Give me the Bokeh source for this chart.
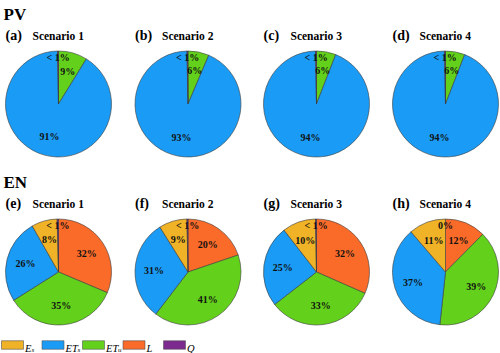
import math
from bokeh.plotting import figure
from bokeh.models import Range1d
from bokeh.embed import file_html
from bokeh.resources import INLINE
from bokeh.core.properties import value

# ---- data ----
# components drawn clockwise from 12 o'clock
components = ["L", "ETu", "ETs", "Es", "Q"]
comp_colors = ["#FA6A28", "#63D11B", "#1A9CF6", "#F0B226", "#7C2A8D"]

scenarios = ["Scenario 1", "Scenario 2", "Scenario 3", "Scenario 4"]
pv_letters = ["(a)", "(b)", "(c)", "(d)"]
en_letters = ["(e)", "(f)", "(g)", "(h)"]

# PV row shares (%)
pv_L = [0.0, 0.0, 0.0, 0.0]
pv_ETu = [8.8, 6.4, 5.9, 5.9]
pv_ETs = [90.9, 93.3, 93.8, 93.8]
pv_Es = [0.0, 0.0, 0.0, 0.0]
pv_Q = [0.3, 0.3, 0.3, 0.3]
pv_L_lab = ["", "", "", ""]
pv_ETu_lab = ["9%", "6%", "6%", "6%"]
pv_ETs_lab = ["91%", "93%", "94%", "94%"]
pv_Es_lab = ["", "", "", ""]
pv_Q_lab = ["< 1%", "< 1%", "< 1%", "< 1%"]

# EN row shares (%)
en_L = [31.6, 19.8, 31.6, 12.4]
en_ETu = [34.9, 40.6, 32.9, 39.3]
en_ETs = [25.9, 30.7, 25.0, 37.0]
en_Es = [7.9, 8.6, 10.2, 11.3]
en_Q = [0.4, 0.3, 0.3, 0.0]
en_L_lab = ["32%", "20%", "32%", "12%"]
en_ETu_lab = ["35%", "41%", "33%", "39%"]
en_ETs_lab = ["26%", "31%", "25%", "37%"]
en_Es_lab = ["8%", "9%", "10%", "11%"]
en_Q_lab = ["< 1%", "< 1%", "< 1%", "0%"]

legend_names = [("E", "s"), ("ET", "s"), ("ET", "u"), ("L", ""), ("Q", "")]
legend_colors = ["#F0B226", "#1A9CF6", "#63D11B", "#FA6A28", "#7C2A8D"]

# ---- layout ----
W, H = 500, 353
R = 53
col_x = [58, 187.5, 316, 445]
row_top = [103.5, 271.5]

SERIF = value("Liberation Serif")

p = figure(width=W, height=H, x_range=Range1d(0, W), y_range=Range1d(0, H),
           output_backend="svg", toolbar_location=None,
           x_axis_type=None, y_axis_type=None, min_border=0)
p.grid.visible = False
p.outline_line_color = None
p.background_fill_color = "white"


def Y(top):
    return H - top


def draw_row(rowvals, rowlabs, ri, letters, head, head_top):
    p.text(x=[3], y=[Y(head_top)], text=[head], text_font=SERIF,
           text_font_size="17px", text_font_style="bold",
           text_baseline="alphabetic", text_color="black")
    cy = Y(row_top[ri])
    for j in range(4):
        cx = col_x[j]
        vals = [v[j] for v in rowvals]
        labs = [l[j] for l in rowlabs]
        tot = sum(vals)
        xs, ys, sa, ea, cols = [], [], [], [], []
        lx, ly, lt = [], [], []
        cum = 0.0
        for k, v in enumerate(vals):
            f0 = cum / tot
            f1 = (cum + v) / tot
            cum += v
            if v > 0:
                xs.append(cx); ys.append(cy)
                sa.append(math.pi / 2 - 2 * math.pi * f0)
                ea.append(math.pi / 2 - 2 * math.pi * f1)
                cols.append(comp_colors[k])
            if labs[k]:
                mid = (f0 + f1) / 2 * 2 * math.pi
                rf = 0.88 if components[k] == "Q" else 0.64
                lx.append(cx + rf * R * math.sin(mid))
                ly.append(cy + rf * R * math.cos(mid))
                lt.append(labs[k])
        p.wedge(x=xs, y=ys, radius=R, start_angle=sa, end_angle=ea,
                direction="clock", fill_color=cols,
                line_color="#3c3c3c", line_width=0.6)
        p.text(x=lx, y=ly, text=lt, text_font=SERIF, text_font_size="10px",
               text_font_style="bold", text_align="center",
               text_baseline="middle", text_color="#111111")
        # panel letter and title
        base = row_top[ri] - 68.5
        p.text(x=[cx - 53], y=[Y(base)], text=[letters[j]], text_font=SERIF,
               text_font_size="14px", text_font_style="bold",
               text_baseline="alphabetic", text_color="black")
        p.text(x=[cx - 26], y=[Y(base)], text=[scenarios[j]], text_font=SERIF,
               text_font_size="11.5px", text_font_style="bold",
               text_baseline="alphabetic", text_color="black")


draw_row([pv_L, pv_ETu, pv_ETs, pv_Es, pv_Q],
         [pv_L_lab, pv_ETu_lab, pv_ETs_lab, pv_Es_lab, pv_Q_lab],
         0, pv_letters, "PV", 14)
draw_row([en_L, en_ETu, en_ETs, en_Es, en_Q],
         [en_L_lab, en_ETu_lab, en_ETs_lab, en_Es_lab, en_Q_lab],
         1, en_letters, "EN", 182)

# ---- legend ----
leg_x0 = 1
leg_step = 40.5
leg_y = Y(344.5)
rx = [leg_x0 + 11 + i * leg_step for i in range(len(legend_names))]
p.rect(x=rx, y=[leg_y] * len(rx), width=22, height=8.5,
       fill_color=legend_colors, line_color="#555555", line_width=0.6)
for i, (main, sub) in enumerate(legend_names):
    tx = leg_x0 + 23.5 + i * leg_step
    p.text(x=[tx], y=[Y(347.5)], text=[main], text_font=SERIF,
           text_font_size="10.5px", text_font_style="italic",
           text_baseline="alphabetic", text_color="black")
    if sub:
        mw = 6.5 if main == "E" else 12
        p.text(x=[tx + mw], y=[Y(349.5)], text=[sub], text_font=SERIF,
               text_font_size="7px", text_font_style="italic",
               text_baseline="alphabetic", text_color="black")

open("out.html", "w").write(file_html(p, INLINE))
